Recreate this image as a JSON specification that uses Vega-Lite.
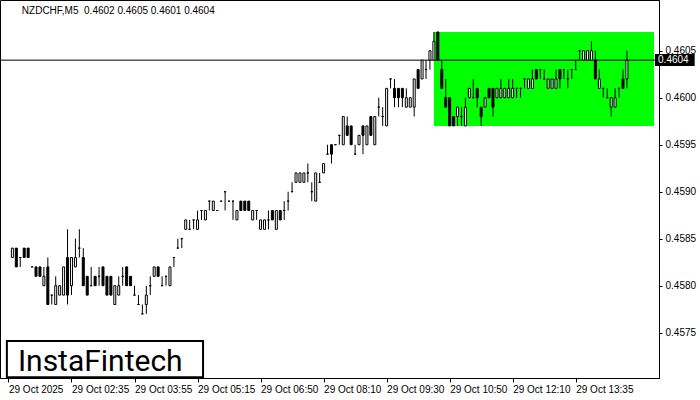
{
"$schema": "https://vega.github.io/schema/vega-lite/v6.json",
"width": 659, "height": 378,
"autosize": {"type": "none"},
"padding": {"left": 0, "top": 0, "right": 41, "bottom": 22},
"background": "white",
"config": {"view": {"stroke": "black", "strokeWidth": 1}},
"datasets": {"candles": [
{"i":0,"o":0.4583,"h":0.4584,"l":0.4583,"c":0.4584},
{"i":1,"o":0.4584,"h":0.4584,"l":0.4582,"c":0.4582},
{"i":2,"o":0.4583,"h":0.4583,"l":0.4582,"c":0.4583},
{"i":3,"o":0.4584,"h":0.4584,"l":0.4583,"c":0.4583},
{"i":4,"o":0.4584,"h":0.4584,"l":0.4583,"c":0.4583},
{"i":5,"o":0.4582,"h":0.4582,"l":0.4582,"c":0.4582},
{"i":6,"o":0.4582,"h":0.4582,"l":0.4581,"c":0.4581},
{"i":7,"o":0.4582,"h":0.4582,"l":0.4581,"c":0.4581},
{"i":8,"o":0.4580,"h":0.4582,"l":0.4580,"c":0.4581},
{"i":9,"o":0.4582,"h":0.4583,"l":0.4578,"c":0.4578},
{"i":10,"o":0.4579,"h":0.4579,"l":0.4578,"c":0.4579},
{"i":11,"o":0.4578,"h":0.4581,"l":0.4578,"c":0.4580},
{"i":12,"o":0.4579,"h":0.4580,"l":0.4579,"c":0.4580},
{"i":13,"o":0.4579,"h":0.4582,"l":0.4579,"c":0.4582},
{"i":14,"o":0.4583,"h":0.4586,"l":0.4578,"c":0.4579},
{"i":15,"o":0.4580,"h":0.4583,"l":0.4579,"c":0.4583},
{"i":16,"o":0.4582,"h":0.4585,"l":0.4582,"c":0.4583},
{"i":17,"o":0.4584,"h":0.4586,"l":0.4583,"c":0.4584},
{"i":18,"o":0.4583,"h":0.4584,"l":0.4580,"c":0.4580},
{"i":19,"o":0.4581,"h":0.4581,"l":0.4579,"c":0.4579},
{"i":20,"o":0.4580,"h":0.4582,"l":0.4580,"c":0.4580},
{"i":21,"o":0.4581,"h":0.4581,"l":0.4580,"c":0.4580},
{"i":22,"o":0.4581,"h":0.4582,"l":0.4580,"c":0.4581},
{"i":23,"o":0.4582,"h":0.4582,"l":0.4580,"c":0.4580},
{"i":24,"o":0.4581,"h":0.4581,"l":0.4579,"c":0.4579},
{"i":25,"o":0.4581,"h":0.4581,"l":0.4579,"c":0.4579},
{"i":26,"o":0.4578,"h":0.4580,"l":0.4578,"c":0.4580},
{"i":27,"o":0.4579,"h":0.4581,"l":0.4579,"c":0.4580},
{"i":28,"o":0.4581,"h":0.4582,"l":0.4580,"c":0.4581},
{"i":29,"o":0.4582,"h":0.4582,"l":0.4580,"c":0.4580},
{"i":30,"o":0.4581,"h":0.4581,"l":0.4580,"c":0.4580},
{"i":31,"o":0.4579,"h":0.4580,"l":0.4579,"c":0.4579},
{"i":32,"o":0.4578,"h":0.4579,"l":0.4578,"c":0.4578},
{"i":33,"o":0.4577,"h":0.4578,"l":0.4577,"c":0.4577},
{"i":34,"o":0.4578,"h":0.4580,"l":0.4577,"c":0.4579},
{"i":35,"o":0.4580,"h":0.4581,"l":0.4579,"c":0.4580},
{"i":36,"o":0.4581,"h":0.4582,"l":0.4581,"c":0.4582},
{"i":37,"o":0.4582,"h":0.4582,"l":0.4581,"c":0.4581},
{"i":38,"o":0.4580,"h":0.4581,"l":0.4580,"c":0.4580},
{"i":39,"o":0.4581,"h":0.4581,"l":0.4580,"c":0.4581},
{"i":40,"o":0.4580,"h":0.4582,"l":0.4580,"c":0.4582},
{"i":41,"o":0.4583,"h":0.4583,"l":0.4582,"c":0.4583},
{"i":42,"o":0.4584,"h":0.4585,"l":0.4584,"c":0.4584},
{"i":43,"o":0.4585,"h":0.4585,"l":0.4584,"c":0.4585},
{"i":44,"o":0.4586,"h":0.4587,"l":0.4586,"c":0.4587},
{"i":45,"o":0.4586,"h":0.4587,"l":0.4586,"c":0.4586},
{"i":46,"o":0.4587,"h":0.4587,"l":0.4586,"c":0.4587},
{"i":47,"o":0.4586,"h":0.4588,"l":0.4586,"c":0.4587},
{"i":48,"o":0.4588,"h":0.4588,"l":0.4587,"c":0.4588},
{"i":49,"o":0.4587,"h":0.4588,"l":0.4587,"c":0.4588},
{"i":50,"o":0.4589,"h":0.4589,"l":0.4588,"c":0.4589},
{"i":51,"o":0.4588,"h":0.4589,"l":0.4588,"c":0.4589},
{"i":52,"o":0.4588,"h":0.4588,"l":0.4588,"c":0.4588},
{"i":53,"o":0.4589,"h":0.4589,"l":0.4589,"c":0.4589},
{"i":54,"o":0.4590,"h":0.4590,"l":0.4588,"c":0.4590},
{"i":55,"o":0.4589,"h":0.4589,"l":0.4589,"c":0.4589},
{"i":56,"o":0.4589,"h":0.4589,"l":0.4587,"c":0.4589},
{"i":57,"o":0.4587,"h":0.4588,"l":0.4587,"c":0.4588},
{"i":58,"o":0.4589,"h":0.4589,"l":0.4588,"c":0.4588},
{"i":59,"o":0.4589,"h":0.4589,"l":0.4588,"c":0.4588},
{"i":60,"o":0.4589,"h":0.4589,"l":0.4588,"c":0.4588},
{"i":61,"o":0.4587,"h":0.4588,"l":0.4587,"c":0.4588},
{"i":62,"o":0.4588,"h":0.4588,"l":0.4587,"c":0.4588},
{"i":63,"o":0.4586,"h":0.4587,"l":0.4586,"c":0.4587},
{"i":64,"o":0.4586,"h":0.4587,"l":0.4586,"c":0.4587},
{"i":65,"o":0.4587,"h":0.4588,"l":0.4586,"c":0.4587},
{"i":66,"o":0.4588,"h":0.4588,"l":0.4587,"c":0.4587},
{"i":67,"o":0.4586,"h":0.4588,"l":0.4586,"c":0.4588},
{"i":68,"o":0.4588,"h":0.4588,"l":0.4587,"c":0.4587},
{"i":69,"o":0.4588,"h":0.4589,"l":0.4587,"c":0.4588},
{"i":70,"o":0.4589,"h":0.4590,"l":0.4588,"c":0.4589},
{"i":71,"o":0.4590,"h":0.4591,"l":0.4590,"c":0.4590},
{"i":72,"o":0.4591,"h":0.4592,"l":0.4591,"c":0.4592},
{"i":73,"o":0.4591,"h":0.4592,"l":0.4591,"c":0.4592},
{"i":74,"o":0.4591,"h":0.4592,"l":0.4591,"c":0.4592},
{"i":75,"o":0.4592,"h":0.4593,"l":0.4591,"c":0.4592},
{"i":76,"o":0.4590,"h":0.4591,"l":0.4589,"c":0.4590},
{"i":77,"o":0.4589,"h":0.4592,"l":0.4589,"c":0.4592},
{"i":78,"o":0.4591,"h":0.4592,"l":0.4591,"c":0.4591},
{"i":79,"o":0.4592,"h":0.4593,"l":0.4592,"c":0.4593},
{"i":80,"o":0.4594,"h":0.4595,"l":0.4594,"c":0.4594},
{"i":81,"o":0.4595,"h":0.4595,"l":0.4593,"c":0.4594},
{"i":82,"o":0.4595,"h":0.4595,"l":0.4595,"c":0.4595},
{"i":83,"o":0.4596,"h":0.4596,"l":0.4595,"c":0.4596},
{"i":84,"o":0.4595,"h":0.4598,"l":0.4595,"c":0.4598},
{"i":85,"o":0.4597,"h":0.4598,"l":0.4596,"c":0.4596},
{"i":86,"o":0.4597,"h":0.4597,"l":0.4595,"c":0.4595},
{"i":87,"o":0.4594,"h":0.4595,"l":0.4594,"c":0.4594},
{"i":88,"o":0.4595,"h":0.4596,"l":0.4595,"c":0.4596},
{"i":89,"o":0.4597,"h":0.4597,"l":0.4594,"c":0.4596},
{"i":90,"o":0.4595,"h":0.4597,"l":0.4595,"c":0.4597},
{"i":91,"o":0.4598,"h":0.4598,"l":0.4596,"c":0.4596},
{"i":92,"o":0.4595,"h":0.4598,"l":0.4595,"c":0.4598},
{"i":93,"o":0.4599,"h":0.4600,"l":0.4598,"c":0.4599},
{"i":94,"o":0.4598,"h":0.4599,"l":0.4597,"c":0.4598},
{"i":95,"o":0.4597,"h":0.4601,"l":0.4597,"c":0.4601},
{"i":96,"o":0.4602,"h":0.4602,"l":0.4601,"c":0.4602},
{"i":97,"o":0.4601,"h":0.4602,"l":0.4599,"c":0.4600},
{"i":98,"o":0.4601,"h":0.4601,"l":0.4599,"c":0.4600},
{"i":99,"o":0.4601,"h":0.4601,"l":0.4599,"c":0.4600},
{"i":100,"o":0.4599,"h":0.4601,"l":0.4599,"c":0.4600},
{"i":101,"o":0.4599,"h":0.4600,"l":0.4599,"c":0.4600},
{"i":102,"o":0.4599,"h":0.4602,"l":0.4598,"c":0.4602},
{"i":103,"o":0.4603,"h":0.4603,"l":0.4601,"c":0.4601},
{"i":104,"o":0.4602,"h":0.4604,"l":0.4602,"c":0.4604},
{"i":105,"o":0.4603,"h":0.4604,"l":0.4602,"c":0.4603},
{"i":106,"o":0.4604,"h":0.4605,"l":0.4603,"c":0.4605},
{"i":107,"o":0.4604,"h":0.4607,"l":0.4604,"c":0.4606},
{"i":108,"o":0.4607,"h":0.4607,"l":0.4604,"c":0.4604},
{"i":109,"o":0.4603,"h":0.4604,"l":0.4601,"c":0.4601},
{"i":110,"o":0.4600,"h":0.4602,"l":0.4599,"c":0.4599},
{"i":111,"o":0.4600,"h":0.4600,"l":0.4597,"c":0.4597},
{"i":112,"o":0.4598,"h":0.4598,"l":0.4597,"c":0.4597},
{"i":113,"o":0.4598,"h":0.4599,"l":0.4597,"c":0.4599},
{"i":114,"o":0.4598,"h":0.4599,"l":0.4597,"c":0.4598},
{"i":115,"o":0.4597,"h":0.4600,"l":0.4597,"c":0.4599},
{"i":116,"o":0.4600,"h":0.4601,"l":0.4600,"c":0.4601},
{"i":117,"o":0.4600,"h":0.4602,"l":0.4600,"c":0.4600},
{"i":118,"o":0.4601,"h":0.4601,"l":0.4599,"c":0.4600},
{"i":119,"o":0.4599,"h":0.4599,"l":0.4597,"c":0.4598},
{"i":120,"o":0.4599,"h":0.4600,"l":0.4599,"c":0.4600},
{"i":121,"o":0.4601,"h":0.4601,"l":0.4600,"c":0.4600},
{"i":122,"o":0.4601,"h":0.4601,"l":0.4598,"c":0.4599},
{"i":123,"o":0.4600,"h":0.4601,"l":0.4600,"c":0.4601},
{"i":124,"o":0.4600,"h":0.4602,"l":0.4600,"c":0.4601},
{"i":125,"o":0.4600,"h":0.4601,"l":0.4600,"c":0.4601},
{"i":126,"o":0.4600,"h":0.4602,"l":0.4600,"c":0.4601},
{"i":127,"o":0.4600,"h":0.4602,"l":0.4600,"c":0.4601},
{"i":128,"o":0.4601,"h":0.4601,"l":0.4600,"c":0.4601},
{"i":129,"o":0.4601,"h":0.4601,"l":0.4600,"c":0.4601},
{"i":130,"o":0.4602,"h":0.4602,"l":0.4601,"c":0.4602},
{"i":131,"o":0.4601,"h":0.4602,"l":0.4601,"c":0.4602},
{"i":132,"o":0.4601,"h":0.4603,"l":0.4601,"c":0.4602},
{"i":133,"o":0.4603,"h":0.4603,"l":0.4602,"c":0.4602},
{"i":134,"o":0.4603,"h":0.4603,"l":0.4602,"c":0.4603},
{"i":135,"o":0.4602,"h":0.4603,"l":0.4602,"c":0.4602},
{"i":136,"o":0.4601,"h":0.4602,"l":0.4601,"c":0.4602},
{"i":137,"o":0.4601,"h":0.4602,"l":0.4601,"c":0.4602},
{"i":138,"o":0.4601,"h":0.4603,"l":0.4601,"c":0.4602},
{"i":139,"o":0.4603,"h":0.4603,"l":0.4601,"c":0.4602},
{"i":140,"o":0.4603,"h":0.4603,"l":0.4602,"c":0.4603},
{"i":141,"o":0.4602,"h":0.4603,"l":0.4601,"c":0.4602},
{"i":142,"o":0.4603,"h":0.4603,"l":0.4602,"c":0.4603},
{"i":143,"o":0.4603,"h":0.4604,"l":0.4603,"c":0.4603},
{"i":144,"o":0.4605,"h":0.4605,"l":0.4604,"c":0.4605},
{"i":145,"o":0.4604,"h":0.4605,"l":0.4604,"c":0.4605},
{"i":146,"o":0.4604,"h":0.4605,"l":0.4604,"c":0.4605},
{"i":147,"o":0.4604,"h":0.4606,"l":0.4604,"c":0.4605},
{"i":148,"o":0.4604,"h":0.4605,"l":0.4602,"c":0.4602},
{"i":149,"o":0.4601,"h":0.4603,"l":0.4601,"c":0.4602},
{"i":150,"o":0.4601,"h":0.4601,"l":0.4600,"c":0.4601},
{"i":151,"o":0.4600,"h":0.4601,"l":0.4600,"c":0.4600},
{"i":152,"o":0.4599,"h":0.4600,"l":0.4598,"c":0.4600},
{"i":153,"o":0.4599,"h":0.4601,"l":0.4599,"c":0.4600},
{"i":154,"o":0.4601,"h":0.4601,"l":0.4600,"c":0.4601},
{"i":155,"o":0.4602,"h":0.4603,"l":0.4601,"c":0.4601},
{"i":156,"o":0.4602,"h":0.4605,"l":0.4601,"c":0.4604}
]},
"data": {"name": "candles"},
"layer": [
{"data": {"values": [{}]},
 "mark": {"type": "rect", "fill": "#00ff00"},
 "encoding": {
  "x": {"datum": 107, "type": "quantitative", "scale": {"domain": [-1.875, 162.875], "nice": false, "zero": false}, "title": null,
   "axis": {"values": [-1, 15, 31, 47, 63, 79, 95, 111, 127, 143], "labelExpr": "['29 Oct 2025','29 Oct 02:35','29 Oct 03:55','29 Oct 05:15','29 Oct 06:50','29 Oct 08:10','29 Oct 09:30','29 Oct 10:50','29 Oct 12:10','29 Oct 13:35'][(datum.value+1)/16]", "labelAlign": "left", "labelBaseline": "top", "labelPadding": 2, "labelFont": "Liberation Sans", "labelFontSize": 10, "labelColor": "black", "tickColor": "black", "tickSize": 4, "domainColor": "black", "grid": false, "labelOverlap": false, "labelBound": false, "labelFlush": false, "title": null}},
  "x2": {"datum": 162.875},
  "y": {"datum": 0.4597, "type": "quantitative", "scale": {"domain": [0.457018, 0.46104], "nice": false, "zero": false}, "title": null,
   "axis": {"orient": "right", "values": [0.4575, 0.458, 0.4585, 0.459, 0.4595, 0.46, 0.4605], "format": ".4f", "labelFont": "Liberation Sans", "labelFontSize": 10, "labelColor": "black", "labelPadding": 3, "tickColor": "black", "tickSize": 3, "domainColor": "black", "grid": false, "labelOverlap": false, "labelBound": false, "labelFlush": false, "title": null}},
  "y2": {"datum": 0.4607}
 }},
{"data": {"values": [{}]},
 "mark": {"type": "rule", "color": "black", "strokeWidth": 1},
 "encoding": {"y": {"datum": 0.4604, "type": "quantitative", "title": null}}},
{"mark": {"type": "rule", "color": "black", "strokeWidth": 1},
 "encoding": {
  "x": {"field": "i", "type": "quantitative", "title": null},
  "y": {"field": "l", "type": "quantitative", "title": null},
  "y2": {"field": "h"}
 }},
{"mark": {"type": "bar", "size": 2, "stroke": "black", "strokeWidth": 1},
 "encoding": {
  "x": {"field": "i", "type": "quantitative", "title": null},
  "y": {"field": "o", "type": "quantitative", "title": null},
  "y2": {"field": "c"},
  "fill": {"condition": {"test": "datum.c >= datum.o", "value": "white"}, "value": "black"}
 }},
{"data": {"values": [{}]},
 "mark": {"type": "text", "text": "NZDCHF,M5 \u00a00.4602 0.4605 0.4601 0.4604", "align": "left", "baseline": "alphabetic", "font": "Liberation Sans", "fontSize": 10, "color": "black"},
 "encoding": {"x": {"datum": 2.4, "type": "quantitative", "title": null}, "y": {"datum": 0.46089, "type": "quantitative", "title": null}}},
{"data": {"values": [{}]},
 "mark": {"type": "rect", "fill": "white", "stroke": "black", "strokeWidth": 2},
 "encoding": {"x": {"datum": -1.4, "type": "quantitative", "title": null}, "x2": {"datum": 48.4}, "y": {"datum": 0.457412, "type": "quantitative", "title": null}, "y2": {"datum": 0.457025}}},
{"data": {"values": [{}]},
 "mark": {"type": "text", "text": "InstaFintech", "align": "left", "baseline": "alphabetic", "font": "Roboto", "fontSize": 30, "fontWeight": 400, "color": "black"},
 "encoding": {"x": {"datum": 1.4, "type": "quantitative", "title": null}, "y": {"datum": 0.457095, "type": "quantitative", "title": null}}},
{"data": {"values": [{}]},
 "mark": {"type": "rect", "fill": "black", "clip": false},
 "encoding": {"x": {"datum": 163.125, "type": "quantitative", "title": null}, "x2": {"datum": 173.2}, "y": {"datum": 0.460465, "type": "quantitative", "title": null}, "y2": {"datum": 0.460338}}},
{"data": {"values": [{}]},
 "mark": {"type": "text", "text": "0.4604", "align": "left", "baseline": "middle", "font": "Liberation Sans", "fontSize": 10, "color": "white", "clip": false},
 "encoding": {"x": {"datum": 163.9, "type": "quantitative", "title": null}, "y": {"datum": 0.4604, "type": "quantitative", "title": null}}}
]
}
